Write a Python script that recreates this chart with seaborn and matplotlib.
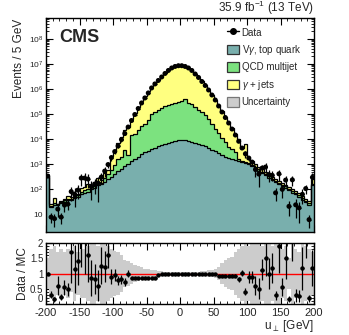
import numpy as np
import matplotlib
matplotlib.use("Agg")
import matplotlib.pyplot as plt
from matplotlib.lines import Line2D
from matplotlib.patches import Patch
from matplotlib.ticker import FixedLocator, FuncFormatter, NullFormatter
import seaborn as sns

sns.set_theme(style="ticks")
plt.rcParams['font.family'] = ['Liberation Sans', 'DejaVu Sans']
plt.rcParams['mathtext.fontset'] = 'custom'
plt.rcParams['mathtext.rm'] = 'Liberation Sans'
plt.rcParams['mathtext.it'] = 'Liberation Sans:italic'
plt.rcParams['axes.unicode_minus'] = False

# 5 GeV bins in u_perp, from -200 to 200
edges = np.arange(-200, 201, 5)
centers = edges[:-1] + 2.5

# values, stored as log10(events)
data_log = [2.52, 0.88, 0.82, 1.20, 0.88, 1.36, 1.40, 1.90, 1.80, 1.96,
            2.44, 2.44, 2.40, 2.10, 2.20, 2.24, 2.48, 2.72, 2.98, 3.26,
            3.50, 3.72, 3.98, 4.22, 4.48, 4.74, 4.98, 5.22, 5.44, 5.64,
            5.84, 6.04, 6.20, 6.34, 6.48, 6.62, 6.74, 6.84, 6.90, 6.93,
            6.93, 6.90, 6.84, 6.74, 6.60, 6.46, 6.30, 6.14, 5.96, 5.76,
            5.56, 5.32, 5.08, 4.86, 4.64, 4.40, 4.16, 3.91, 3.64, 3.41,
            3.24, 3.08, 2.78, 2.60, 2.84, 2.88, 2.58, 2.55, 1.85, 2.61,
            1.99, 2.36, 1.31, 2.37, 1.37, 1.25, 1.79, 2.02, 0.78, 2.47]

# top of each stacked layer (cumulative), log10(events)
vgamma_top_log = [2.50, 1.30, 1.35, 1.38, 1.45, 1.50, 1.55, 1.58, 1.65, 1.70,
                  1.80, 1.85, 1.90, 2.00, 2.05, 2.15, 2.20, 2.30, 2.40, 2.50,
                  2.60, 2.72, 2.82, 2.92, 3.02, 3.12, 3.20, 3.30, 3.40, 3.48,
                  3.54, 3.60, 3.66, 3.72, 3.77, 3.82, 3.86, 3.90, 3.93, 3.96,
                  3.96, 3.95, 3.93, 3.90, 3.85, 3.81, 3.76, 3.71, 3.65, 3.58,
                  3.52, 3.44, 3.36, 3.30, 3.24, 3.20, 3.16, 3.12, 3.08, 3.04,
                  3.00, 2.92, 2.82, 2.74, 2.64, 2.56, 2.45, 2.35, 2.27, 2.20,
                  2.12, 2.05, 1.95, 1.86, 1.79, 1.70, 1.58, 1.48, 1.38, 2.15]

qcd_top_log = [2.51, 1.33, 1.45, 1.40, 1.50, 1.55, 1.62, 1.62, 1.69, 1.75,
               1.90, 1.95, 2.00, 2.08, 2.12, 2.30, 2.25, 2.45, 2.60, 2.75,
               2.95, 3.20, 3.30, 3.56, 3.35, 4.16, 4.22, 4.38, 4.54, 4.62,
               4.76, 5.02, 5.10, 5.16, 5.26, 5.32, 5.36, 5.40, 5.44, 5.46,
               5.50, 5.60, 5.44, 5.38, 5.28, 5.18, 5.08, 4.96, 4.80, 4.60,
               4.40, 4.24, 4.06, 3.90, 3.70, 3.60, 3.50, 3.20, 3.12, 3.08,
               3.06, 2.98, 2.88, 2.80, 2.70, 2.62, 2.51, 2.41, 2.33, 2.26,
               2.18, 2.11, 2.01, 1.92, 1.85, 1.76, 1.64, 1.54, 1.44, 2.22]

gjets_top_log = [2.52, 1.40, 1.64, 1.42, 1.54, 1.62, 1.72, 1.67, 1.74, 1.81,
                 2.06, 2.10, 2.19, 2.17, 2.29, 2.46, 2.38, 2.63, 2.77, 3.31,
                 3.52, 3.83, 4.07, 4.36, 4.48, 4.81, 5.05, 5.29, 5.51, 5.71,
                 5.91, 6.11, 6.27, 6.36, 6.49, 6.63, 6.75, 6.85, 6.91, 6.94,
                 6.94, 6.91, 6.85, 6.75, 6.61, 6.47, 6.31, 6.15, 5.97, 5.77,
                 5.57, 5.35, 5.11, 4.89, 4.67, 4.43, 4.19, 4.00, 3.63, 3.80,
                 3.29, 3.13, 3.00, 2.90, 2.79, 2.70, 2.58, 2.48, 2.40, 2.33,
                 2.25, 2.18, 2.08, 1.99, 1.92, 1.83, 1.72, 1.62, 1.52, 2.40]

# error on data/MC and relative MC uncertainty (grey band)
ratio_err = [0.05, 0.12, 0.08, 0.30, 0.10, 0.25, 0.20, 1.00, 0.80, 0.80,
             1.20, 1.20, 0.90, 0.60, 0.50, 0.50, 0.60, 0.50, 0.45, 0.25,
             0.20, 0.15, 0.15, 0.12, 0.10, 0.04, 0.02, 0.02, 0.02, 0.02,
             0.02, 0.02, 0.02, 0.02, 0.01, 0.01, 0.01, 0.01, 0.01, 0.01,
             0.01, 0.01, 0.01, 0.01, 0.01, 0.01, 0.01, 0.01, 0.01, 0.01,
             0.01, 0.02, 0.02, 0.02, 0.02, 0.05, 0.06, 0.08, 0.10, 0.12,
             0.20, 0.20, 0.30, 0.35, 0.35, 0.60, 0.50, 0.50, 0.15, 0.90,
             0.30, 0.70, 0.10, 1.00, 0.20, 0.20, 0.70, 1.00, 0.10, 0.60]

mc_unc = [0.50, 0.80, 0.90, 0.70, 0.80, 0.70, 0.80, 0.60, 0.90, 0.70,
          0.80, 0.80, 0.90, 1.00, 1.00, 0.90, 1.00, 1.00, 0.90, 0.80,
          0.75, 0.70, 0.60, 0.45, 0.40, 0.35, 0.28, 0.25, 0.22, 0.16,
          0.14, 0.12, 0.10, 0.08, 0.07, 0.06, 0.05, 0.04, 0.04, 0.04,
          0.04, 0.04, 0.04, 0.05, 0.05, 0.05, 0.07, 0.08, 0.10, 0.13,
          0.16, 0.20, 0.35, 0.45, 0.50, 0.55, 0.70, 0.80, 0.90, 1.00,
          0.90, 1.00, 1.00, 1.00, 0.90, 1.00, 1.00, 0.90, 1.00, 1.00,
          0.80, 0.90, 0.50, 1.00, 0.80, 0.70, 1.00, 0.90, 0.80, 0.70]

labels = ['Data', r'V$\gamma$, top quark', 'QCD multijet', r'$\gamma$ + jets', 'Uncertainty']
c_vg = '#79afad'
c_qcd = '#7ce27f'
c_gj = '#ffff80'
c_unc = '#cccccc'

data = 10 ** np.array(data_log)
vg_top = 10 ** np.array(vgamma_top_log)
qcd_top = 10 ** np.array(qcd_top_log)
total = 10 ** np.array(gjets_top_log)
ratio = data / total
ratio_err = np.array(ratio_err)
mc_unc = np.array(mc_unc)

fig = plt.figure(figsize=(3.49, 3.35), dpi=100)
ax = fig.add_axes([0.132, 0.307, 0.768, 0.638])
axr = fig.add_axes([0.132, 0.0925, 0.768, 0.182])

floor = 0.1
ax.stairs(vg_top, edges, baseline=floor, fill=True, color=c_vg, lw=0)
ax.stairs(qcd_top, edges, baseline=vg_top, fill=True, color=c_qcd, lw=0)
ax.stairs(total, edges, baseline=qcd_top, fill=True, color=c_gj, lw=0)
for top in [vg_top, qcd_top, total]:
    ax.stairs(top, edges, baseline=None, color='black', lw=0.9)

ax.errorbar(centers, data, yerr=ratio_err * total, xerr=2.5, fmt='none',
            ecolor='black', elinewidth=0.9)
sns.scatterplot(x=centers, y=data, ax=ax, color='black', s=13, edgecolor='none',
                legend=False, zorder=5)

ax.set_yscale('log')
ax.set_xlim(-200, 200)
ax.set_ylim(1.9, 6.6e8)
# only ticks inside the visible range
decades = 10.0 ** np.arange(1, 9)
ax.yaxis.set_major_locator(FixedLocator(decades))
minor = [m * d for d in 10.0 ** np.arange(0, 9) for m in range(2, 10) if 1.9 <= m * d <= 6.6e8]
ax.yaxis.set_minor_locator(FixedLocator(minor))
ax.yaxis.set_minor_formatter(NullFormatter())


def log_label(v, pos):
    e = int(round(np.log10(v)))
    return '10' if e == 1 else r'$10^{%d}$' % e


ax.yaxis.set_major_formatter(FuncFormatter(log_label))
ax.xaxis.set_major_locator(FixedLocator(np.arange(-200, 201, 50)))
ax.xaxis.set_minor_locator(FixedLocator(np.arange(-200, 201, 10)))
ax.tick_params(axis='x', labelbottom=False)
ax.tick_params(axis='y', labelsize=6, pad=2)
ax.set_ylabel('Events / 5 GeV', fontsize=8.5, loc='top', labelpad=3)

ax.text(0.048, 0.952, 'CMS', transform=ax.transAxes, fontsize=13, fontweight='bold',
        ha='left', va='top')
ax.text(1.0, 1.008, r'35.9 fb$^{-1}$ (13 TeV)', transform=ax.transAxes, fontsize=8.5,
        ha='right', va='bottom')

handles = [Line2D([0], [0], color='black', marker='o', ms=4, lw=1),
           Patch(facecolor=c_vg, edgecolor='#333333', lw=0.9),
           Patch(facecolor=c_qcd, edgecolor='#333333', lw=0.9),
           Patch(facecolor=c_gj, edgecolor='#333333', lw=0.9),
           Patch(facecolor=c_unc, edgecolor='#777777', lw=0.9)]
ax.legend(handles, labels, loc='upper left', bbox_to_anchor=(0.675, 0.958), frameon=False,
          fontsize=7, handlelength=1.2, handleheight=1.15, labelspacing=0.55,
          handletextpad=0.3, borderpad=0, borderaxespad=0)

# ratio panel
axr.stairs(1 + mc_unc, edges, baseline=1 - mc_unc, fill=True, color=c_unc, lw=0)
axr.axhline(1, color='red', lw=1)
axr.errorbar(centers, ratio, yerr=ratio_err, xerr=2.5, fmt='o', ms=2.2, color='black',
             elinewidth=0.9, capsize=0)
axr.set_xlim(-200, 200)
axr.set_ylim(0, 2)
axr.xaxis.set_major_locator(FixedLocator(np.arange(-200, 201, 50)))
axr.xaxis.set_minor_locator(FixedLocator(np.arange(-200, 201, 10)))
axr.yaxis.set_major_locator(FixedLocator([0, 0.5, 1, 1.5, 2]))
axr.yaxis.set_minor_locator(FixedLocator(np.arange(0, 2.01, 0.1)))
axr.yaxis.set_major_formatter(FuncFormatter(lambda v, p: '%g' % v))
axr.tick_params(axis='x', labelsize=8, pad=3)
axr.tick_params(axis='y', labelsize=7, pad=2)
axr.set_ylabel('Data / MC', fontsize=8.5, labelpad=1)
axr.set_xlabel(r'u$_{\perp}$ [GeV]', fontsize=8.5, loc='right', labelpad=0)

for a in [ax, axr]:
    a.tick_params(which='both', direction='in', top=True, right=True, color='black')
    a.tick_params(which='major', length=5, width=0.8)
    a.tick_params(which='minor', length=2.5, width=0.6)
    for s in a.spines.values():
        s.set_color('black')
        s.set_linewidth(1)

# the "0" of the ratio axis sits just above the "-200" label, as in the original
axr.get_yticklabels()[0].set_verticalalignment('bottom')

fig.savefig('out.png', dpi=100)
